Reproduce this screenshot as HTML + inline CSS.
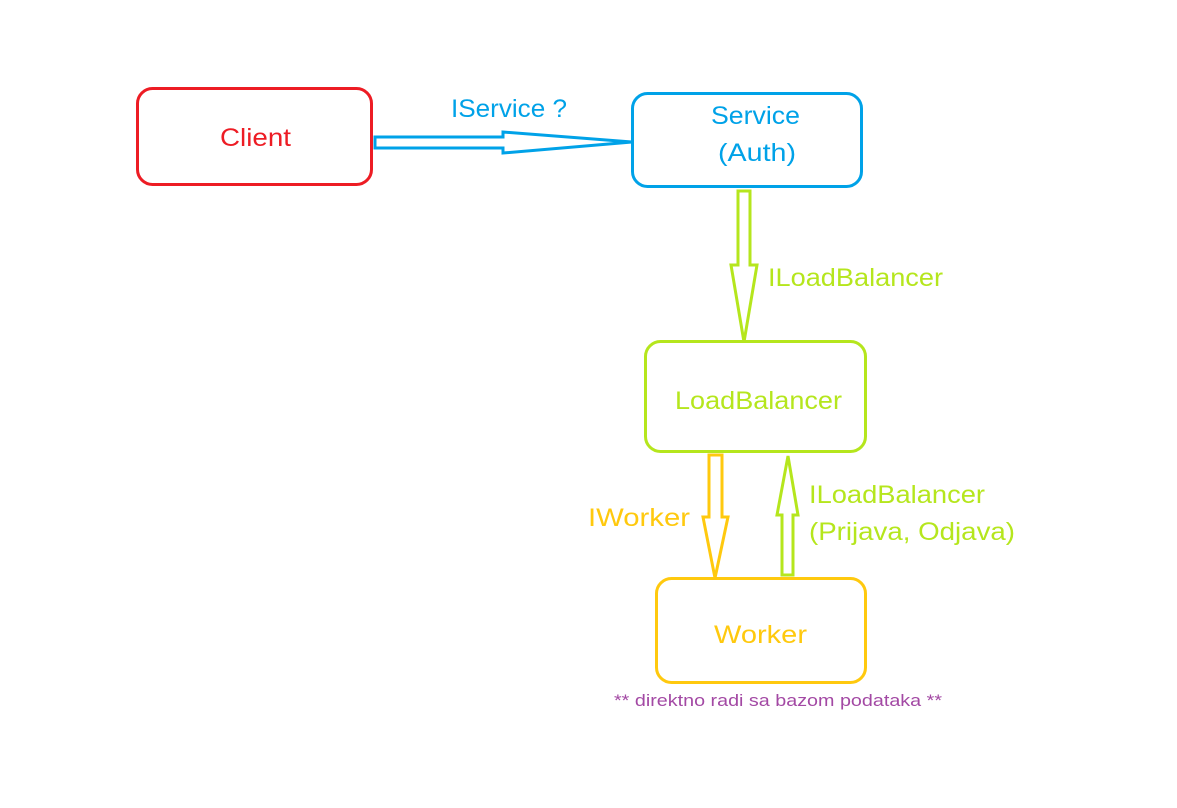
<!DOCTYPE html>
<html><head><meta charset="utf-8"><style>html,body{margin:0;padding:0;background:#fff}svg{display:block}</style></head>
<body>
<svg width="1177" height="808" viewBox="0 0 1177 808" xmlns="http://www.w3.org/2000/svg" font-family="Liberation Sans, DejaVu Sans, sans-serif">
<g fill="none" stroke-width="3">
<rect x="137.5" y="88.5" width="234" height="96" rx="15" stroke="#ed1c24"/>
<rect x="632.5" y="93.5" width="229" height="93" rx="15" stroke="#00a2e8"/>
<rect x="645.5" y="341.5" width="220" height="110" rx="15" stroke="#b5e61d"/>
<rect x="656.5" y="578.5" width="209" height="104" rx="15" stroke="#ffc90e"/>
<polygon points="375,137 503,137 503,132 632,142 503,153 503,148 375,148" stroke="#00a2e8"/>
<polygon points="738,191 750,191 750,265 757,265 744,342 731,265 738,265" stroke="#b5e61d"/>
<polygon points="709,455 722,455 722,517 728,517 715,578 703,517 709,517" stroke="#ffc90e"/>
<polygon points="788,456 798,515 793,515 793,575 782,575 782,515 777,515" stroke="#b5e61d"/>
</g>
<g font-size="25">
<text x="220" y="146" fill="#ed1c24" textLength="71" lengthAdjust="spacingAndGlyphs">Client</text>
<text x="451" y="117" fill="#00a2e8" textLength="116" lengthAdjust="spacingAndGlyphs">IService ?</text>
<text x="711" y="124" fill="#00a2e8" textLength="89" lengthAdjust="spacingAndGlyphs">Service</text>
<text x="718" y="161" fill="#00a2e8" textLength="78" lengthAdjust="spacingAndGlyphs">(Auth)</text>
<text x="768" y="286" fill="#b5e61d" textLength="175" lengthAdjust="spacingAndGlyphs">ILoadBalancer</text>
<text x="675" y="409" fill="#b5e61d" textLength="167" lengthAdjust="spacingAndGlyphs">LoadBalancer</text>
<text x="588" y="526" fill="#ffc90e" textLength="102" lengthAdjust="spacingAndGlyphs">IWorker</text>
<text x="809" y="503" fill="#b5e61d" textLength="176" lengthAdjust="spacingAndGlyphs">ILoadBalancer</text>
<text x="809" y="540" fill="#b5e61d" textLength="206" lengthAdjust="spacingAndGlyphs">(Prijava, Odjava)</text>
<text x="714" y="643" fill="#ffc90e" textLength="93" lengthAdjust="spacingAndGlyphs">Worker</text>
</g>
<text x="614" y="706" font-size="17" fill="#a349a4" textLength="328" lengthAdjust="spacingAndGlyphs">** direktno radi sa bazom podataka **</text>
</svg>
</body></html>
